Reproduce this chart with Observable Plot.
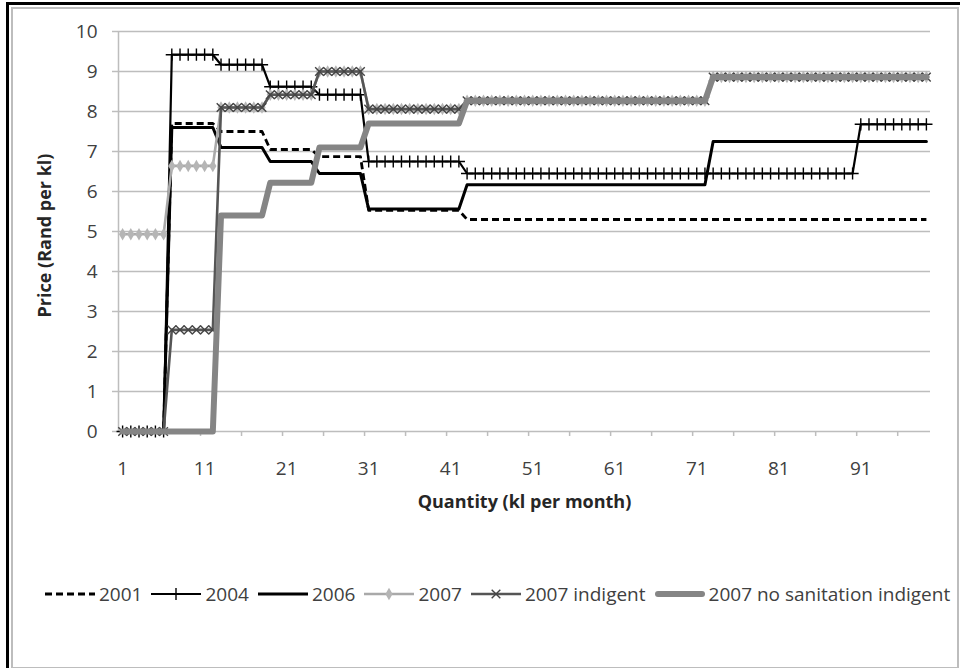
<!DOCTYPE html>
<html>
<head>
<meta charset="utf-8">
<script src="https://cdn.jsdelivr.net/npm/d3@7"></script>
<script src="https://cdn.jsdelivr.net/npm/@observablehq/plot@0.6"></script>
<style>
  html, body { margin: 0; padding: 0; background: #fff; }
  #page { position: relative; width: 960px; height: 668px; overflow: hidden; font-family: "Open Sans", Lato, sans-serif; }
  #outer { position: absolute; left: 6px; top: 2px; width: 1000px; height: 700px; border-left: 3px solid #000; border-top: 3px solid #000; }
  #inner { position: absolute; left: 11px; top: 7px; width: 944px; height: 658px; border: 2px solid #bdbdbd; }
  #chart { position: absolute; left: 0; top: 0; }
  #legend { position: absolute; left: 45px; top: 581px; display: flex; align-items: center; white-space: nowrap; font-size: 19px; color: #404040; }
  #legend .item { display: flex; align-items: center; margin-right: 9px; }
  #legend svg { display: block; margin-right: 4px; }
</style>
</head>
<body>
<div id="page">
  <div id="outer"></div>
  <div id="inner"></div>
  <div id="chart"></div>
  <div id="legend"></div>
</div>
<script>
// Block tariffs: upper limit of each consumption block (kl per month)
const blockUpper = [6, 12, 18, 24, 30, 42, 72, 90, 99];

// Price per kl in each block (Rand)
const price2001 = [0, 7.70, 7.50, 7.05, 6.87, 5.53, 5.30, 5.30, 5.30];
const price2004 = [0, 9.42, 9.17, 8.62, 8.42, 6.75, 6.45, 6.45, 7.68];
const price2006 = [0, 7.60, 7.10, 6.75, 6.45, 5.56, 6.17, 7.25, 7.25];
const price2007 = [4.93, 6.64, 8.10, 8.42, 9.00, 8.06, 8.27, 8.86, 8.86];
const price2007Indigent = [0, 2.54, 8.10, 8.42, 9.00, 8.06, 8.27, 8.86, 8.86];
const price2007NoSanIndigent = [0, 0, 5.40, 6.22, 7.10, 7.70, 8.27, 8.86, 8.86];

const seriesNames = ["2001", "2004", "2006", "2007", "2007 indigent", "2007 no sanitation indigent"];
const xTickLabels = [1, 11, 21, 31, 41, 51, 61, 71, 81, 91];
const yTickLabels = [0, 1, 2, 3, 4, 5, 6, 7, 8, 9, 10];

const seriesPrices = [price2001, price2004, price2006, price2007, price2007Indigent, price2007NoSanIndigent];

// One row per kl: price of the block that kl falls in
const quantities = d3.range(1, blockUpper[blockUpper.length - 1] + 1);
function rowsFor(prices) {
  return quantities.map(q => ({q, price: prices[blockUpper.findIndex(u => q <= u)]}));
}

const styles = [
  {stroke: "#000", strokeWidth: 2.8, dash: "7,4", symbol: null},
  {stroke: "#000", strokeWidth: 2.2, dash: null, symbol: "plus", mStroke: "#000", mFill: "none", r: 4.0, mWidth: 1.4},
  {stroke: "#000", strokeWidth: 3.0, dash: null, symbol: null},
  {stroke: "#a9a9a9", strokeWidth: 2.6, dash: null, symbol: "diamond", mStroke: "none", mFill: "#b5b5b5", r: 3.8, mWidth: 0},
  {stroke: "#555", strokeWidth: 2.6, dash: null, symbol: "times", mStroke: "#444", mFill: "none", r: 4.0, mWidth: 1.4},
  {stroke: "#858585", strokeWidth: 6, dash: null, symbol: null}
];

const seriesMarks = [];
seriesPrices.forEach((prices, i) => {
  const s = styles[i];
  const rows = rowsFor(prices);
  seriesMarks.push(Plot.line(rows, {
    x: "q", y: "price", stroke: s.stroke, strokeWidth: s.strokeWidth,
    strokeDasharray: s.dash, strokeLinecap: s.dash ? "butt" : "round", strokeLinejoin: "round"
  }));
  if (s.symbol) {
    seriesMarks.push(Plot.dot(rows, {
      x: "q", y: "price", symbol: s.symbol, r: s.r,
      stroke: s.mStroke, fill: s.mFill, strokeWidth: s.mWidth
    }));
  }
});

const chart = Plot.plot({
  width: 960,
  height: 560,
  marginLeft: 118,
  marginRight: 30,
  marginTop: 31,
  marginBottom: 129,
  style: {background: "transparent", fontFamily: "'Open Sans', Lato, sans-serif"},
  x: {domain: [0.5, 99.5], label: null},
  y: {domain: [0, 10], label: null},
  marks: [
    Plot.gridY(yTickLabels.slice(1), {stroke: "#bdbdbd", strokeOpacity: 1, strokeWidth: 1.5}),
    Plot.axisY(yTickLabels, {label: null, tickSize: 6, tickPadding: 15, stroke: "#bdbdbd", strokeWidth: 1.5, fontSize: 19, fill: "#404040"}),
    Plot.ruleX([0.5], {stroke: "#bdbdbd", strokeWidth: 1.5}),
    Plot.ruleY([0], {stroke: "#bdbdbd", strokeWidth: 1.5}),
    Plot.axisX(d3.range(5.5, 99, 5), {label: null, tickSize: 5, tickFormat: () => "", stroke: "#bdbdbd", strokeWidth: 1.5}),
    Plot.axisX(xTickLabels, {label: null, tickSize: 0, tickPadding: 30, fontSize: 19, fill: "#404040"}),
    Plot.text(["Quantity (kl per month)"], {frameAnchor: "bottom", dy: 76, fontSize: 18, fontWeight: "bold", fill: "#262626"}),
    Plot.text(["Price (Rand per kl)"], {frameAnchor: "left", textAnchor: "middle", dx: -73, dy: 4, rotate: -90, fontSize: 18, fontWeight: "bold", fill: "#262626"}),
    ...seriesMarks
  ]
});
document.getElementById("chart").appendChild(chart);

// Legend below the plot
const legend = d3.select("#legend");
seriesNames.forEach((name, i) => {
  const s = styles[i];
  const item = legend.append("div").attr("class", "item");
  const svg = item.append("svg").attr("width", 50).attr("height", 20);
  svg.append("line")
    .attr("x1", s.strokeWidth > 4 ? 3 : 0).attr("x2", s.strokeWidth > 4 ? 47 : 50)
    .attr("y1", 10).attr("y2", 10)
    .attr("stroke", s.stroke).attr("stroke-width", s.strokeWidth)
    .attr("stroke-linecap", s.dash ? "butt" : "round")
    .attr("stroke-dasharray", s.dash);
  if (s.symbol) {
    const sym = {plus: d3.symbolPlus, times: d3.symbolTimes, diamond: d3.symbolDiamond}[s.symbol];
    svg.append("path")
      .attr("transform", "translate(25,10)")
      .attr("d", d3.symbol(sym, Math.PI * s.r * s.r)())
      .attr("fill", s.mFill).attr("stroke", s.mStroke).attr("stroke-width", s.mWidth);
  }
  item.append("span").text(name);
});
</script>
</body>
</html>
